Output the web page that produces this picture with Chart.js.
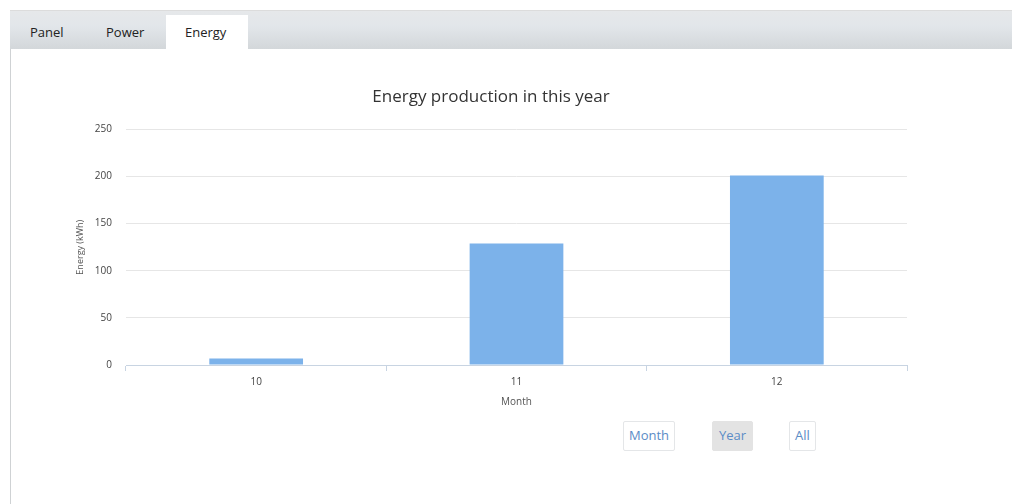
<!DOCTYPE html>
<html><head><meta charset="utf-8">
<script src="https://cdn.jsdelivr.net/npm/chart.js@4/dist/chart.umd.min.js"></script>
<style>
html,body{margin:0;padding:0;background:#fff;width:1012px;height:504px;overflow:hidden;font-family:"Open Sans","DejaVu Sans",sans-serif;}
#tabbar{position:absolute;left:10px;top:10px;width:1002px;height:38px;background:linear-gradient(#e6e8ea 0%,#e2e6ea 40%,#d3d7da 100%);border-top:1px solid #dcdcdc;border-bottom:1px solid #c4c8cb;}
.tab{position:absolute;font-size:13px;color:#222;}
#active{position:absolute;left:166px;top:15px;width:82px;height:35px;background:#fff;}
#panel{position:absolute;left:10px;top:49px;width:1002px;height:455px;border-left:1px solid #cfd2d4;background:#fff;}
#wrap{position:absolute;left:75px;top:80px;width:845px;height:332px;}
.btn{position:absolute;top:421px;height:28px;line-height:27px;font-size:13px;color:#5b8cc6;border:1px solid #e4e6e8;border-radius:2px;text-align:center;background:#fff;}
</style></head><body>
<div id="tabbar"></div>
<div id="active"></div>
<div class="tab" style="left:30px;top:23px">Panel</div>
<div class="tab" style="left:106px;top:23px">Power</div>
<div class="tab" style="left:185px;top:23px">Energy</div>
<div id="panel"></div>
<div id="wrap"><canvas id="c"></canvas></div>
<div class="btn" style="left:623px;width:50px">Month</div>
<div class="btn" style="left:712px;width:39px;background:#e3e3e3;border-color:#e3e3e3">Year</div>
<div class="btn" style="left:789px;width:25px">All</div>
<script>
const categories = ["10", "11", "12"];
const energyValues = [7, 129, 201];
const yTicks = [0, 50, 100, 150, 200, 250];
const chartTitle = "Energy production in this year";
const xTitle = "Month";
const yTitle = "Energy (kWh)";
const F = '"Open Sans","DejaVu Sans",sans-serif';

new Chart(document.getElementById('c'), {
  type: 'bar',
  data: { labels: categories, datasets: [{ data: energyValues, backgroundColor: '#7cb2ea', borderWidth: 0, barPercentage: 0.36, categoryPercentage: 1.0 }] },
  options: {
    responsive: true, maintainAspectRatio: false, animation: false,
    layout: { padding: { left: 0, right: 13, top: 0, bottom: 0 } },
    plugins: {
      legend: { display: false }, tooltip: { enabled: false },
      title: { display: true, text: chartTitle, color: '#333', font: { family: F, size: 17, weight: 'normal' }, padding: { top: 7, bottom: 22 } }
    },
    scales: {
      x: {
        grid: { display: true, drawOnChartArea: false, offset: true, tickLength: 6, color: '#c8d4e2' },
        border: { color: '#c8d4e2' },
        ticks: { color: '#444', font: { size: 10, family: F }, padding: 5 },
        title: { display: true, text: xTitle, color: '#555', font: { size: 10, family: F }, padding: { top: 3 } }
      },
      y: {
        min: 0, max: 250,
        afterBuildTicks: s => { s.ticks = yTicks.map(v => ({ value: v })); },
        afterFit: s => { s.width = 51; },
        grid: { color: '#e6e6e6', drawTicks: false },
        border: { display: false },
        ticks: { color: '#444', font: { size: 10, family: F }, padding: 14 },
        title: { display: true, text: yTitle, color: '#555', font: { size: 9, family: F }, padding: 0 }
      }
    }
  }
});
</script>
</body></html>
